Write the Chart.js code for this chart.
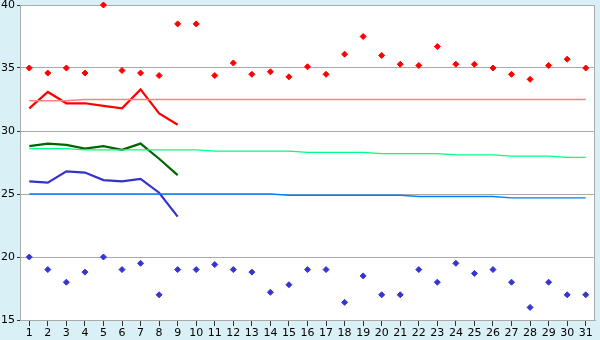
<!DOCTYPE html>
<html>
<head>
<meta charset="utf-8">
<script src="https://cdn.jsdelivr.net/npm/chart.js@4/dist/chart.umd.min.js"></script>
<style>
  html, body { margin: 0; padding: 0; background: #d9f0f7; }
  #wrap { width: 600px; height: 340px; }
</style>
</head>
<body>
<div id="wrap"><canvas id="chart" width="600" height="340"></canvas></div>
<script>
const days = Array.from({length: 31}, (_, i) => i + 1);
const dayLabels = ['1','2','3','4','5','6','7','8','9','10','11','12','13','14','15','16',
  '17','18','19','20','21','22','23','24','25','26','27','28','29','30','31'];
const yTicks = [15, 20, 25, 30, 35, 40];

// daily max / min (points)
const maxTemp = [35.0, 34.6, 35.0, 34.6, 40.0, 34.8, 34.6, 34.4, 38.5, 38.5, 34.4, 35.4, 34.5, 34.7, 34.3, 35.1,
  34.5, 36.1, 37.5, 36.0, 35.3, 35.2, 36.7, 35.3, 35.3, 35.0, 34.5, 34.1, 35.2, 35.7, 35.0];
const minTemp = [20.0, 19.0, 18.0, 18.8, 20.0, 19.0, 19.5, 17.0, 19.0, 19.0, 19.4, 19.0, 18.8, 17.2, 17.8, 19.0,
  19.0, 16.4, 18.5, 17.0, 17.0, 19.0, 18.0, 19.5, 18.7, 19.0, 18.0, 16.0, 18.0, 17.0, 17.0];

// thick lines, days 1-9
const maxLine = [31.8, 33.1, 32.2, 32.2, 32.0, 31.8, 33.3, 31.4, 30.5];
const meanLine = [28.8, 29.0, 28.9, 28.6, 28.8, 28.5, 29.0, 27.8, 26.5];
const minLine = [26.0, 25.9, 26.8, 26.7, 26.1, 26.0, 26.2, 25.1, 23.2];

// thin normal lines
const maxNormal = [32.4, 32.4, 32.4, 32.5, 32.5, 32.5, 32.5, 32.5, 32.5, 32.5, 32.5, 32.5, 32.5, 32.5, 32.5, 32.5,
  32.5, 32.5, 32.5, 32.5, 32.5, 32.5, 32.5, 32.5, 32.5, 32.5, 32.5, 32.5, 32.5, 32.5, 32.5];
const meanNormal = [28.6, 28.6, 28.6, 28.5, 28.5, 28.5, 28.5, 28.5, 28.5, 28.5, 28.4, 28.4, 28.4, 28.4, 28.4, 28.3,
  28.3, 28.3, 28.3, 28.2, 28.2, 28.2, 28.2, 28.1, 28.1, 28.1, 28.0, 28.0, 28.0, 27.9, 27.9];
const minNormal = [25.0, 25.0, 25.0, 25.0, 25.0, 25.0, 25.0, 25.0, 25.0, 25.0, 25.0, 25.0, 25.0, 25.0, 24.9, 24.9,
  24.9, 24.9, 24.9, 24.9, 24.9, 24.8, 24.8, 24.8, 24.8, 24.8, 24.7, 24.7, 24.7, 24.7, 24.7];

function pts(arr) {
  return arr.map((v, i) => ({x: days[i], y: v}));
}

function lineSet(arr, color, width) {
  return {
    type: 'line', data: pts(arr), borderColor: color, borderWidth: width,
    pointRadius: 0, fill: false, tension: 0
  };
}

function pointSet(arr, color) {
  return {
    type: 'scatter', data: pts(arr), backgroundColor: color, borderColor: color,
    pointStyle: 'rectRot', pointRadius: 3, borderWidth: 1, showLine: false, clip: false
  };
}

// white plot area + gray frame
const plotBg = {
  id: 'plotBg',
  beforeDraw(chart) {
    const {ctx, chartArea: a} = chart;
    ctx.save();
    ctx.fillStyle = '#d9f0f7';
    ctx.fillRect(0, 0, chart.width, chart.height);
    ctx.fillStyle = '#ffffff';
    ctx.fillRect(a.left, a.top, a.right - a.left, a.bottom - a.top);
    ctx.restore();
  },
  beforeDatasetsDraw(chart) {
    const {ctx, chartArea: a} = chart;
    ctx.save();
    ctx.strokeStyle = '#aaaaaa';
    ctx.lineWidth = 1;
    ctx.strokeRect(Math.round(a.left) + 0.5, Math.round(a.top) + 0.5,
      Math.round(a.right - a.left) - 1, Math.round(a.bottom - a.top));
    ctx.restore();
  }
};

new Chart(document.getElementById('chart'), {
  data: {
    datasets: [
      lineSet(maxNormal, '#ff8080', 1.3),
      lineSet(meanNormal, '#00ff80', 1.3),
      lineSet(minNormal, '#0080ff', 1.3),
      lineSet(maxLine, '#ff0000', 2.2),
      lineSet(meanLine, '#006400', 2.2),
      lineSet(minLine, '#3333cc', 2.2),
      pointSet(maxTemp, '#ff0000'),
      pointSet(minTemp, '#3535d0')
    ]
  },
  options: {
    responsive: false,
    animation: false,
    layout: { autoPadding: false, padding: { top: 5, right: 5, left: 0, bottom: 0 } },
    plugins: { legend: { display: false }, tooltip: { enabled: false } },
    scales: {
      x: {
        type: 'linear', min: 0.5, max: 31.5,
        afterBuildTicks: s => { s.ticks = days.map(d => ({value: d})); },
        afterFit: s => { s.height = 20; s.paddingLeft = 0; s.paddingRight = 0; },
        grid: { drawOnChartArea: false, drawTicks: true, tickLength: 6, color: '#333333' },
        border: { display: true, color: '#aaaaaa' },
        ticks: {
          color: '#000', padding: 1, maxRotation: 0, autoSkip: false,
          font: { family: 'DejaVu Sans', size: 11 },
          callback: v => dayLabels[v - 1]
        }
      },
      y: {
        min: 15, max: 40,
        afterBuildTicks: s => { s.ticks = yTicks.map(v => ({value: v})); },
        afterFit: s => { s.width = 20; s.paddingTop = 0; s.paddingBottom = 0; },
        grid: { color: '#aaaaaa', lineWidth: 1, tickLength: 3, tickColor: '#333333' },
        border: { display: true, color: '#aaaaaa' },
        ticks: {
          color: '#000', padding: 2,
          font: { family: 'DejaVu Sans', size: 11 }
        }
      }
    }
  },
  plugins: [plotBg]
});
</script>
</body>
</html>
